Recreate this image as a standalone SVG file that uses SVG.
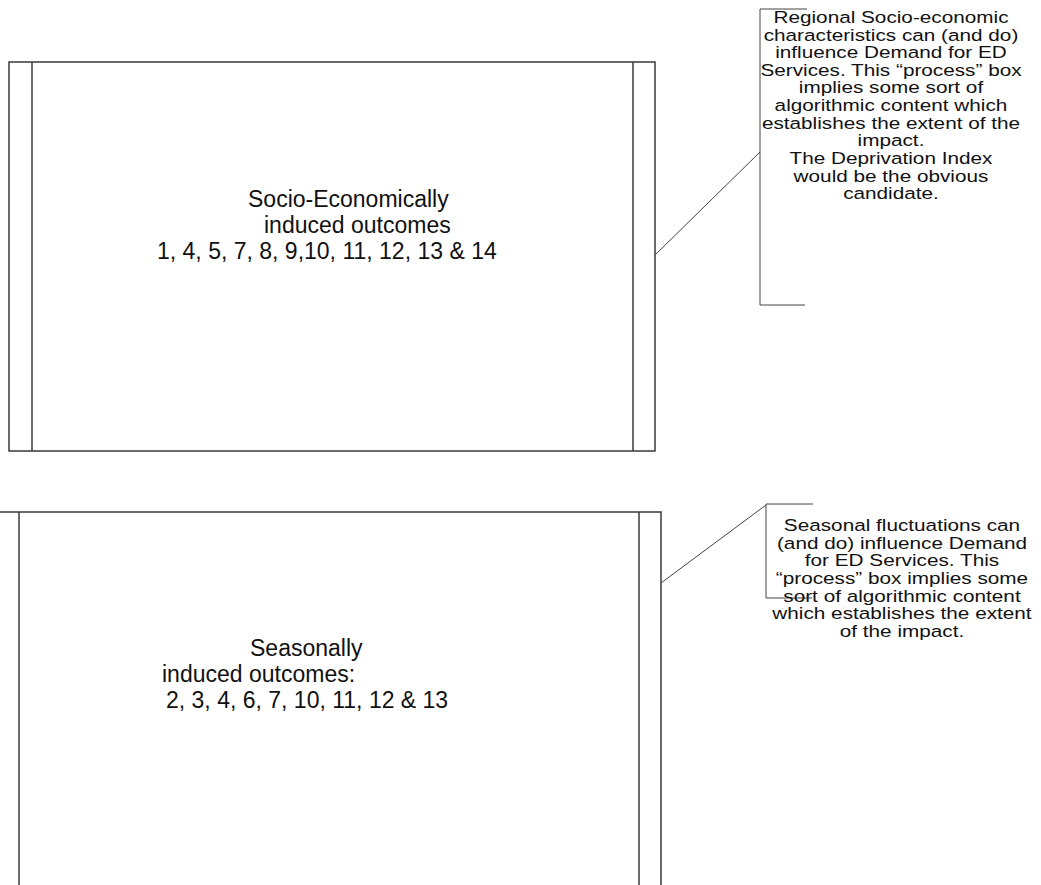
<svg xmlns="http://www.w3.org/2000/svg" width="1041" height="885" viewBox="0 0 1041 885">
<style>
.box{fill:#fff;stroke:#3a3a3a;stroke-width:1.5}
.ln{stroke:#3a3a3a;stroke-width:1.5;fill:none}
.thin{stroke:#444;stroke-width:1;fill:none}
.big{font-family:"Liberation Sans",Arial,sans-serif;font-size:23px;fill:#111}
.sm{font-family:"Liberation Sans",Arial,sans-serif;font-size:17px;fill:#111;text-anchor:middle}
</style>
<rect width="1041" height="885" fill="#fff"/>
<g id="process1">
<rect class="box" x="9" y="62" width="646" height="389"/>
<line class="ln" x1="32" y1="62" x2="32" y2="451"/>
<line class="ln" x1="633" y1="62" x2="633" y2="451"/>
<text class="big"><tspan x="248" y="207">Socio-Economically</tspan><tspan x="264" y="233">induced outcomes</tspan><tspan x="157" y="259">1, 4, 5, 7, 8, 9,10, 11, 12, 13 &amp; 14</tspan></text>
</g>
<g id="process2">
<rect class="box" x="-3" y="512" width="664" height="400"/>
<line class="ln" x1="19" y1="512" x2="19" y2="912"/>
<line class="ln" x1="639" y1="512" x2="639" y2="912"/>
<text class="big"><tspan x="250" y="656">Seasonally</tspan><tspan x="162" y="682">induced outcomes:</tspan><tspan x="166" y="708">2, 3, 4, 6, 7, 10, 11, 12 &amp; 13</tspan></text>
</g>
<g id="note1">
<path class="thin" d="M807 9 H760 V305 H805"/>
<text class="sm" transform="translate(891 0) scale(1.22 1) translate(-891 0)"><tspan x="891" y="23">Regional Socio-economic</tspan><tspan x="891" y="41">characteristics can (and do)</tspan><tspan x="891" y="58">influence Demand for ED</tspan><tspan x="891" y="76">Services. This “process” box</tspan><tspan x="891" y="93">implies some sort of</tspan><tspan x="891" y="111">algorithmic  content which</tspan><tspan x="891" y="129">establishes the extent of the</tspan><tspan x="891" y="146">impact.</tspan><tspan x="891" y="164">The Deprivation Index</tspan><tspan x="891" y="182">would be the obvious</tspan><tspan x="891" y="199">candidate.</tspan></text>
</g>
<g id="note2">
<path class="thin" d="M813 504 H766 V598 H812"/>
<text class="sm" transform="translate(902 0) scale(1.22 1) translate(-902 0)"><tspan x="902" y="531">Seasonal fluctuations can</tspan><tspan x="902" y="549">(and do) influence Demand</tspan><tspan x="902" y="566">for ED Services. This</tspan><tspan x="902" y="584">“process” box implies some</tspan><tspan x="902" y="602">sort of algorithmic  content</tspan><tspan x="902" y="619">which establishes the extent</tspan><tspan x="902" y="637">of the impact.</tspan></text>
</g>
<g id="connectors">
<line class="thin" x1="655" y1="255" x2="760" y2="152"/>
<line class="thin" x1="661" y1="583" x2="766" y2="505"/>
</g>
</svg>
